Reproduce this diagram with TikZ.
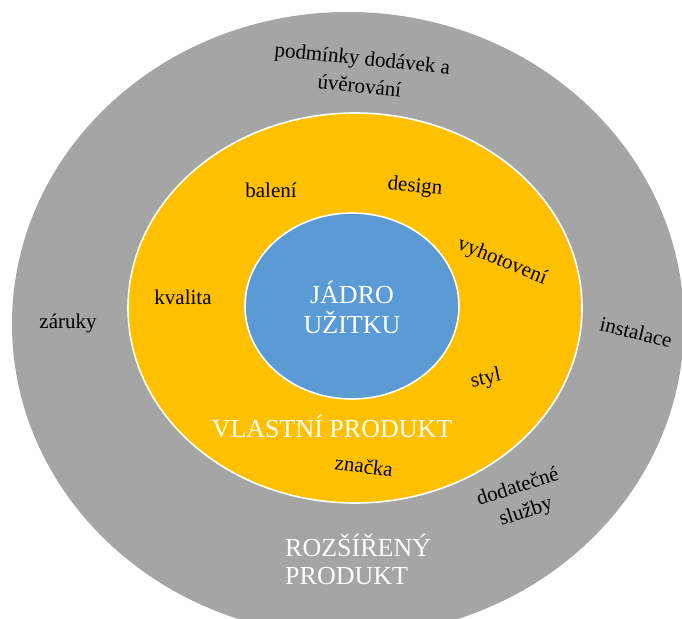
\documentclass[tikz,border=0pt]{standalone}
\usepackage{fontspec}
\setmainfont{Liberation Serif}
\definecolor{ringgray}{HTML}{A5A5A5}
\definecolor{ringgold}{HTML}{FFC000}
\definecolor{coreblue}{HTML}{5B9BD5}
\begin{document}
\begin{tikzpicture}[x=1pt,y=-1pt,
  lbl/.style={font=\fontsize{21}{26}\selectfont, text=black, align=center, inner sep=0pt},
  head/.style={font=\fontsize{26}{29}\selectfont, text=white, align=center, inner sep=0pt},
  ring/.style={draw=white, line width=1.6pt}]
\useasboundingbox (0,0) rectangle (682,618);
\clip (0,0) rectangle (682,618);
\fill[white] (0,0) rectangle (682,618);
% three nested layers of the product
\fill[ringgray] (348,324) ellipse [x radius=336, y radius=312];
\filldraw[ring, fill=ringgold] (355,308) ellipse [x radius=227, y radius=195];
\filldraw[ring, fill=coreblue] (352,306) ellipse [x radius=107, y radius=93];
% layer titles
\node[head, font=\fontsize{26}{30}\selectfont] (core) at (352,307) {JÁDRO\\UŽITKU};
\node[head] (actual) at (332,427) {VLASTNÍ PRODUKT};
\node[head, align=left, anchor=west, font=\fontsize{26}{28}\selectfont] (augmented) at (285,559) {ROZŠÍŘENÝ\\PRODUKT};
% attributes of the actual product
\node[lbl] (baleni) at (271,190) {balení};
\node[lbl, rotate=-5] (design) at (415,187) {design};
\node[lbl, rotate=-22] (vyhot) at (502,262) {vyhotovení};
\node[lbl] (kvalita) at (183,297) {kvalita};
\node[lbl, rotate=12] (styl) at (486,379) {styl};
\node[lbl, rotate=-8] (znacka) at (364,466) {značka};
% services of the augmented product
\node[lbl, rotate=-6, font=\fontsize{21}{28}\selectfont] (podminky) at (361,72) {podmínky dodávek a\\úvěrování};
\node[lbl] (zaruky) at (68,323) {záruky};
\node[lbl, rotate=-14] (instalace) at (636,332) {instalace};
\node[lbl, rotate=18] (sluzby) at (522,500) {dodatečné\\služby};
\end{tikzpicture}
\end{document}
